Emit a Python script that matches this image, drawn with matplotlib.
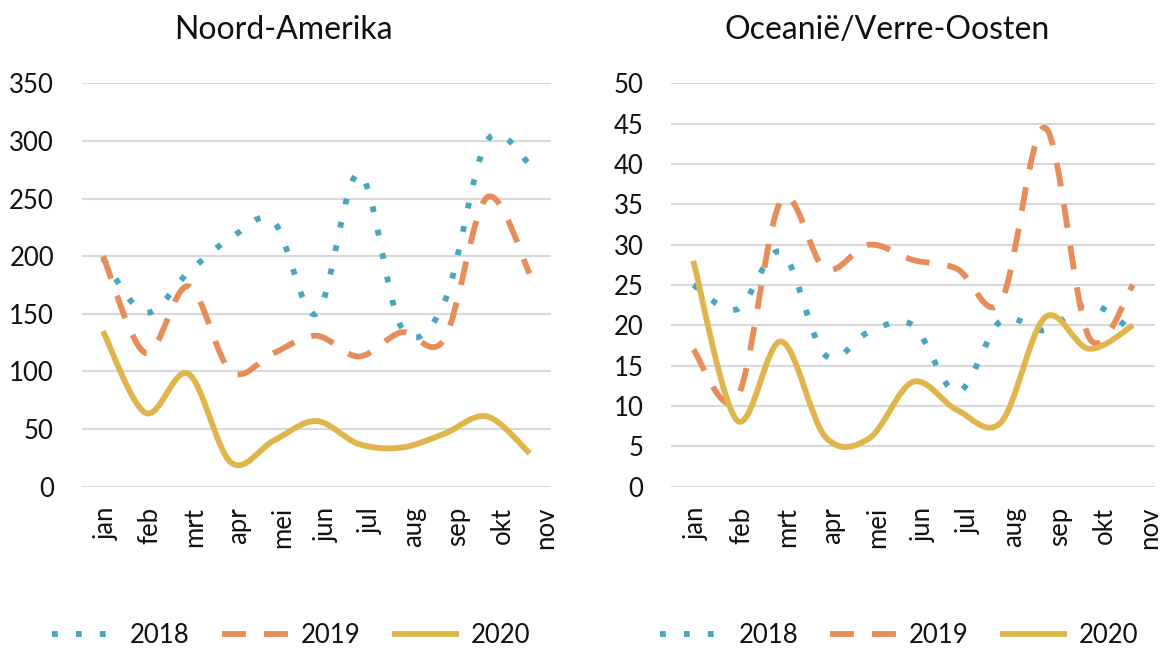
import numpy as np
import matplotlib
matplotlib.use("Agg")
import matplotlib.pyplot as plt
from matplotlib.path import Path
from matplotlib.patches import PathPatch
from matplotlib.lines import Line2D
from matplotlib.transforms import blended_transform_factory

plt.rcParams['font.family'] = ['Lato', 'DejaVu Sans']

months = ['jan', 'feb', 'mrt', 'apr', 'mei', 'jun', 'jul', 'aug', 'sep', 'okt', 'nov']
years = ['2018', '2019', '2020']

# Noord-Amerika
na_2018 = [198, 151, 186, 216, 230, 150, 272, 138, 160, 300, 280]
na_2019 = [200, 116, 174, 100, 116, 131, 113, 134, 128, 251, 185]
na_2020 = [135, 64, 98, 21, 40, 57, 37, 34, 46, 61, 29]

# Oceanië/Verre-Oosten
ov_2018 = [25, 22, 29.1, 16.3, 19.2, 20, 11.7, 20.6, 19.4, 22.7, 19.2]
ov_2019 = [17, 11, 35.5, 27, 30, 28.1, 27, 23, 44.5, 18.5, 25]
ov_2020 = [28, 8.2, 18, 6.2, 6, 13, 9.5, 8, 21, 17.1, 20]

colors = ['#4AA5C3', '#E68D5A', '#E0B64C']
dashes = [(1.0, 3.1), (4.1, 3.1), None]
lw = 4.2


def smooth_path(xs, ys):
    # Excel-style smoothed line: cubic Bezier through every point
    pts = np.column_stack([xs, ys]).astype(float)
    n = len(pts)
    verts = [pts[0]]
    codes = [Path.MOVETO]
    for i in range(n - 1):
        p0 = pts[max(i - 1, 0)]
        p1 = pts[i]
        p2 = pts[i + 1]
        p3 = pts[min(i + 2, n - 1)]
        verts += [p1 + (p2 - p0) / 6, p2 - (p3 - p1) / 6, p2]
        codes += [Path.CURVE4] * 3
    return Path(verts, codes)


def line_style(k):
    if dashes[k] is None:
        return '-'
    return (0, dashes[k])


def draw_panel(ax, title, series, ymax, ystep, title_x, leg_x):
    x = np.arange(len(months))
    for k, vals in enumerate(series):
        patch = PathPatch(smooth_path(x, vals), fill=False, edgecolor=colors[k],
                          lw=lw, linestyle=line_style(k), capstyle='butt',
                          joinstyle='round', zorder=3 + k)
        ax.add_patch(patch)
    ax.set_xlim(-0.5, len(months) - 0.5)
    ax.set_ylim(0, ymax)
    ax.set_yticks(np.arange(0, ymax + ystep / 2, ystep))
    ax.set_xticks([])
    ax.grid(axis='y', color='#D9D9D9', lw=1.5)
    ax.set_axisbelow(True)
    for s in ax.spines.values():
        s.set_visible(False)
    ax.tick_params(axis='y', length=0, pad=20, labelsize=18.5, labelcolor='#111111')
    ax.set_title(title, fontsize=23, pad=32, color='#111111', x=title_x)

    trans = blended_transform_factory(ax.transData, ax.transAxes)
    for i, m in enumerate(months):
        ax.text(0.08 + 1.03 * i, -0.05, m, transform=trans, rotation=90,
                ha='center', va='top', fontsize=18.5, color='#111111', clip_on=False)

    handles = [Line2D([], [], color=colors[k], lw=lw, linestyle=line_style(k),
                      dash_capstyle='butt', solid_capstyle='butt') for k in range(3)]
    ax.legend(handles, years, loc='center', bbox_to_anchor=(leg_x, -0.37), ncol=3,
              frameon=False, fontsize=18.5, handlelength=2.6, handletextpad=0.45,
              columnspacing=1.25, labelcolor='#111111', borderpad=0.2)


fig = plt.figure(figsize=(11.6, 6.52), dpi=100)
ax1 = fig.add_axes([0.0704, 0.2535, 0.4046, 0.6187])
ax2 = fig.add_axes([0.5787, 0.2535, 0.4170, 0.6187])

draw_panel(ax1, 'Noord-Amerika', [na_2018, na_2019, na_2020], 350, 50, 0.429, 0.446)
draw_panel(ax2, 'Oceanië/Verre-Oosten', [ov_2018, ov_2019, ov_2020], 50, 5, 0.446, 0.471)

fig.savefig('out.png', dpi=100)
plt.close(fig)
